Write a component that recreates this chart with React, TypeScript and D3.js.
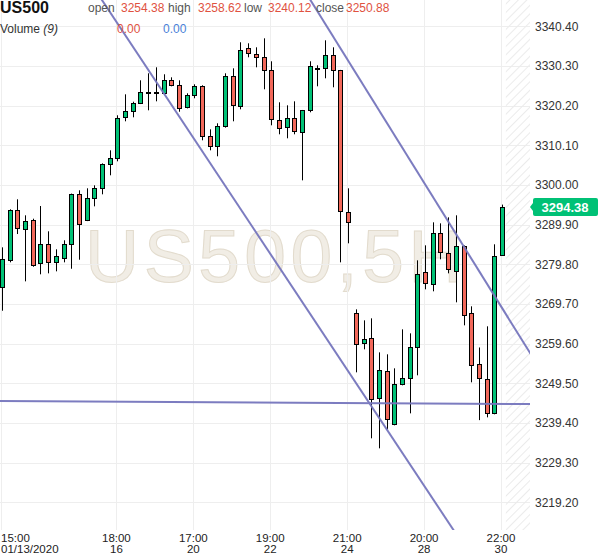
import React from "react";
import * as d3 from "d3";

const opens = [
  3274.09, 3280.97, 3293.55, 3288.71, 3291.07, 3280.05, 3284.89, 3280.3, 3281.47, 3284.89,
  3297.62, 3291.0, 3296.6, 3299.15, 3305.26, 3306.79, 3317.23, 3318.75, 3320.79, 3323.5,
  3323.55, 3323.34, 3326.65, 3325.38, 3319.77, 3322.83, 3325.12, 3312.39, 3309.84, 3314.94,
  3327.67, 3320.03, 3334.8, 3333.27, 3332.51, 3329.2, 3316.46, 3314.68, 3316.97, 3313.41,
  3319.01, 3329.7, 3329.7, 3333.02, 3329.2, 3293.04, 3267.32, 3259.68, 3260.95, 3245.67,
  3252.55, 3239.05, 3249.24, 3250.76, 3258.66, 3277.76, 3274.7, 3287.69, 3282.59, 3278.01,
  3284.38, 3267.32, 3254.38, 3250.6, 3241.85, 3282.09,
];
const highs = [
  3284.12, 3293.8, 3296.35, 3292.27, 3291.41, 3294.64, 3288.2, 3283.61, 3285.91, 3297.8,
  3298.64, 3299.15, 3299.91, 3305.5, 3308.82, 3317.74, 3323.08, 3321.2, 3326.65, 3328.43,
  3329.96, 3328.18, 3327.41, 3326.65, 3323.34, 3325.63, 3325.38, 3314.17, 3315.7, 3328.43,
  3329.7, 3336.33, 3336.07, 3335.05, 3337.34, 3331.49, 3321.05, 3320.28, 3321.3, 3319.1,
  3331.49, 3330.47, 3336.83, 3335.05, 3329.3, 3299.15, 3268.33, 3265.53, 3266.04, 3257.38,
  3256.88, 3253.31, 3263.24, 3262.22, 3280.81, 3284.63, 3290.49, 3290.23, 3291.76, 3292.27,
  3284.6, 3269.1, 3258.62, 3264.01, 3284.89, 3295.0,
];
const lows = [
  3267.98, 3280.3, 3287.51, 3275.46, 3279.18, 3277.25, 3277.5, 3278.01, 3280.3, 3278.67,
  3280.97, 3290.8, 3294.56, 3297.62, 3302.46, 3306.02, 3316.21, 3317.23, 3320.6, 3319.01,
  3321.3, 3323.2, 3325.12, 3318.65, 3319.5, 3322.07, 3311.37, 3308.82, 3307.3, 3314.6,
  3316.21, 3319.26, 3332.51, 3329.96, 3324.36, 3315.19, 3312.9, 3311.88, 3312.9, 3301.18,
  3318.5, 3325.12, 3327.16, 3324.87, 3280.3, 3285.14, 3252.29, 3258.15, 3235.49, 3232.94,
  3237.78, 3238.8, 3248.98, 3241.85, 3251.53, 3273.43, 3272.92, 3281.07, 3277.5, 3270.12,
  3264.26, 3249.75, 3240.12, 3240.83, 3241.6, 3282.0,
];
const closes = [
  3281.07, 3293.55, 3288.96, 3290.74, 3279.62, 3284.89, 3280.3, 3281.83, 3284.89, 3297.62,
  3289.98, 3296.6, 3299.15, 3305.26, 3306.79, 3316.97, 3318.75, 3320.79, 3323.59, 3323.65,
  3323.62, 3326.65, 3325.38, 3319.52, 3322.83, 3325.12, 3312.39, 3309.84, 3314.94, 3327.67,
  3320.28, 3334.29, 3333.52, 3332.51, 3329.2, 3316.72, 3314.43, 3316.97, 3313.66, 3319.01,
  3330.21, 3329.85, 3333.02, 3329.2, 3293.29, 3290.49, 3259.5, 3260.7, 3245.42, 3252.8,
  3240.32, 3249.24, 3250.76, 3258.66, 3277.25, 3274.96, 3287.69, 3282.85, 3278.52, 3284.38,
  3266.81, 3254.07, 3250.88, 3241.85, 3281.83, 3294.38,
];

const priceTicks = [3340.4, 3330.3, 3320.2, 3310.1, 3300.0, 3289.9, 3279.8, 3269.7, 3259.6, 3249.5, 3239.4, 3229.3, 3219.2];
const timeTickIndex = [0, 15, 25, 35, 45, 55, 65];
const timeTickTop = ["15:00", "18:00", "17:00", "19:00", "21:00", "20:00", "22:00"];
const timeTickBottom = ["01/13/2020", "16", "20", "22", "24", "28", "30"];

// trend lines as [candle index, price] pairs
const trendA = [[12.99, 3347.1], [58.7, 3212.13]];
const trendB = [[40.09, 3347.1], [68.57, 3257.46]];
const trendC = [[-0.26, 3244.98], [68.57, 3244.22]];

const symbol = "US500";
const watermark = "US500,5H";
const headerOHLC = [
  ["open", "3254.38"],
  ["high", "3258.62"],
  ["low", "3240.12"],
  ["close", "3250.88"],
];
const lastPrice = 3294.38;

const W = 599;
const H = 558;
const PLOT_R = 530;
const PLOT_B = 530;
const FONT = "'Liberation Sans', Arial, Helvetica, sans-serif";
const GREEN = "#00c176";
const RED = "#f2685a";
const LINE = "#7676bd";

export default function App() {
  const x = d3.scaleLinear().domain([0, 65]).range([2, 502]);
  const y = d3.scaleLinear().domain([3219.2, 3340.4]).range([502.3, 26.3]);
  const step = x(1) - x(0);
  const hatchX = x(65) + step / 2;

  const trendPath = (pts: number[][]) => {
    const [[i0, p0], [i1, p1]] = pts;
    const slope = (p1 - p0) / (i1 - i0);
    const line = d3.line<number>().x((i) => x(i)).y((i) => y(p0 + slope * (i - i0)));
    return line([-5, 75]) || "";
  };

  const candles = opens.map((o, i) => ({ i, o, h: highs[i], l: lows[i], c: closes[i] }));
  const crisp = (v: number) => Math.round(v) + 0.5;

  const headerX = [88, 168, 244, 316];
  const valueX = [121, 198, 268, 346];
  const ly = y(lastPrice);

  return (
    <svg
      width={W}
      height={H}
      style={{ position: "absolute", left: 0, top: 0, background: "#fff" }}
      fontFamily={FONT}
    >
      <defs>
        <clipPath id="plotClip">
          <rect x={0} y={0} width={PLOT_R} height={PLOT_B} />
        </clipPath>
        <pattern id="hatch" width={6} height={6} patternUnits="userSpaceOnUse" patternTransform="rotate(45)">
          <line x1={0} y1={0} x2={0} y2={6} stroke="#ebebeb" strokeWidth={2} />
        </pattern>
      </defs>

      <text
        x={276}
        y={282}
        fontSize={75}
        letterSpacing={4.5}
        textAnchor="middle"
        fill="#f1ede5"
        stroke="#e2dbcd"
        strokeWidth={1}
      >
        {watermark}
      </text>

      {/* grid */}
      <g stroke="#eeeeee" strokeWidth={1}>
        {priceTicks.map((p) => (
          <line key={p} x1={0} x2={PLOT_R} y1={crisp(y(p))} y2={crisp(y(p))} />
        ))}
        {timeTickIndex.map((i) => (
          <line key={i} x1={crisp(x(i)) - 1} x2={crisp(x(i)) - 1} y1={0} y2={PLOT_B} />
        ))}
      </g>

      <rect x={hatchX} y={0} width={PLOT_R - hatchX} height={PLOT_B} fill="url(#hatch)" />

      {/* candles */}
      <g>
        {candles.map((d) => {
          const cx = Math.round(x(d.i)) + 0.5;
          const top = Math.round(y(Math.max(d.o, d.c)));
          const bot = Math.round(y(Math.min(d.o, d.c)));
          const up = d.c >= d.o;
          const hgt = Math.max(1, bot - top);
          return (
            <g key={d.i}>
              <line x1={cx} x2={cx} y1={y(d.h)} y2={y(d.l)} stroke="#000" strokeWidth={1} />
              <rect
                x={cx - 2}
                y={top + 0.5}
                width={4}
                height={hgt}
                fill={up ? GREEN : RED}
                stroke="#000"
                strokeWidth={1}
              />
            </g>
          );
        })}
      </g>

      {/* trend lines */}
      <g clipPath="url(#plotClip)" fill="none" stroke={LINE} strokeWidth={2} opacity={0.95}>
        <path d={trendPath(trendA)} />
        <path d={trendPath(trendB)} />
        <path d={trendPath(trendC)} />
      </g>

      {/* header */}
      <text x={0} y={13} fontSize={16} fontWeight="bold" fill="#111">
        {symbol}
      </text>
      {headerOHLC.map(([k, v], j) => (
        <g key={k} fontSize={12}>
          <text x={headerX[j]} y={12} fill="#555">
            {k}
          </text>
          <text x={valueX[j]} y={12} fill="#e0523f">
            {v}
          </text>
        </g>
      ))}
      <text x={0} y={33} fontSize={12} fill="#333">
        Volume <tspan fontStyle="italic">(9)</tspan>
      </text>
      <text x={117} y={33} fontSize={12} fill="#e0523f">
        0.00
      </text>
      <text x={163} y={33} fontSize={12} fill="#4a7fd8">
        0.00
      </text>

      {/* price axis */}
      <g fontSize={12} fill="#333">
        {priceTicks.map((p) => (
          <text key={p} x={535} y={y(p)} dy="0.35em">
            {p.toFixed(2)}
          </text>
        ))}
      </g>
      <g>
        <path
          d={`M530,${ly} L533,${ly - 4} L533,${ly - 7} Q533,${ly - 9} 535,${ly - 9} L596,${ly - 9} Q598,${ly - 9} 598,${ly - 7} L598,${ly + 7} Q598,${ly + 9} 596,${ly + 9} L535,${ly + 9} Q533,${ly + 9} 533,${ly + 7} L533,${ly + 4} Z`}
          fill={GREEN}
        />
        <text x={565} y={ly} dy="0.36em" textAnchor="middle" fontSize={13} fontWeight="bold" fill="#fff">
          {lastPrice.toFixed(2)}
        </text>
      </g>

      {/* time axis */}
      <g fontSize={11.5} fill="#222">
        {timeTickIndex.map((i, j) => {
          const tx = j === 0 ? 1 : x(i) - 1;
          const anchor = j === 0 ? "start" : "middle";
          return (
            <g key={i}>
              <text x={tx} y={541.5} textAnchor={anchor}>
                {timeTickTop[j]}
              </text>
              <text x={tx} y={552.5} textAnchor={anchor}>
                {timeTickBottom[j]}
              </text>
            </g>
          );
        })}
      </g>
    </svg>
  );
}
